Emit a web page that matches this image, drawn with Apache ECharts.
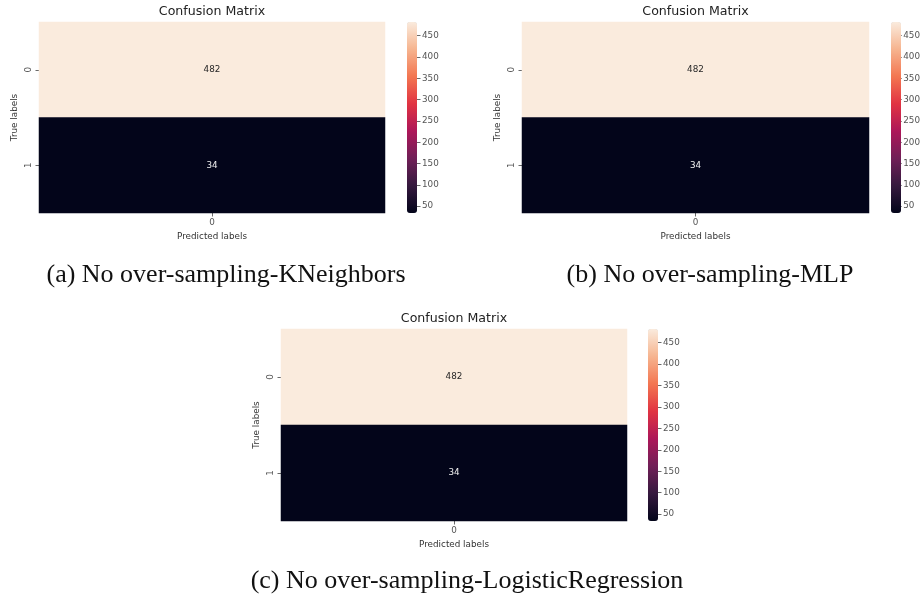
<!DOCTYPE html>
<html>
<head>
<meta charset="utf-8">
<script src="https://cdn.jsdelivr.net/npm/echarts@6/dist/echarts.min.js"></script>
<style>html,body{margin:0;padding:0;background:#fff;}#c{width:923px;height:602px;}</style>
</head>
<body>
<div id="c"></div>
<script>
// ---- data ----
const predictedLabels = ['0'];
const trueLabels = ['0', '1'];
const valuesKNeighbors = [482, 34];
const valuesMLP = [482, 34];
const valuesLogReg = [482, 34];
const colorbarTicks = [50, 100, 150, 200, 250, 300, 350, 400, 450];
const panelTitles = ['Confusion Matrix', 'Confusion Matrix', 'Confusion Matrix'];
const captions = ['(a) No over-sampling-KNeighbors', '(b) No over-sampling-MLP', '(c) No over-sampling-LogisticRegression'];
const rocket = ['#03051a', '#35193e', '#701f57', '#ad1759', '#e13342', '#f37651', '#f6b48f', '#faebdd'];

const FONT = 'DejaVu Sans';
const LBL = 8.8;
const panels = [
  { vals: valuesKNeighbors, hx: 39, hy: 22, hw: 346, hh: 191, cx: 407 },
  { vals: valuesMLP, hx: 522, hy: 22, hw: 347, hh: 191, cx: 891 },
  { vals: valuesLogReg, hx: 281, hy: 329, hw: 346, hh: 192, cx: 648 }
];
const vmin = Math.min(...valuesKNeighbors, ...valuesMLP, ...valuesLogReg);
const vmax = Math.max(...valuesKNeighbors, ...valuesMLP, ...valuesLogReg);

const grid = [], xAxis = [], yAxis = [], series = [], visualMap = [], graphic = [];
panels.forEach((p, i) => {
  // heatmap grid
  grid.push({ left: p.hx, top: p.hy, width: p.hw, height: p.hh, containLabel: false });
  xAxis.push({
    type: 'category', gridIndex: 2 * i, data: predictedLabels, position: 'bottom',
    axisLine: { show: false }, splitLine: { show: false },
    axisTick: { show: true, alignWithLabel: true, length: 3.5, lineStyle: { color: '#444', width: 0.8 } },
    axisLabel: { margin: 5, fontFamily: FONT, fontSize: LBL, color: '#555' },
    name: 'Predicted labels', nameLocation: 'middle', nameGap: 19,
    nameTextStyle: { fontFamily: FONT, fontSize: LBL, color: '#333' }
  });
  yAxis.push({
    type: 'category', gridIndex: 2 * i, data: trueLabels, inverse: true,
    axisLine: { show: false }, splitLine: { show: false },
    axisTick: { show: true, alignWithLabel: true, length: 3.5, lineStyle: { color: '#444', width: 0.8 } },
    axisLabel: { margin: 6, rotate: 90, fontFamily: FONT, fontSize: LBL, color: '#555' },
    name: 'True labels', nameLocation: 'middle', nameGap: 20, nameRotate: 90,
    nameTextStyle: { fontFamily: FONT, fontSize: LBL, color: '#333' }
  });
  // colorbar axis grid
  grid.push({ left: p.cx, top: p.hy, width: 10, height: p.hh, containLabel: false });
  xAxis.push({ type: 'category', gridIndex: 2 * i + 1, data: ['cb'], show: false });
  yAxis.push({
    type: 'value', gridIndex: 2 * i + 1, position: 'right', min: vmin, max: vmax,
    axisLine: { show: false }, splitLine: { show: false },
    axisTick: { show: true, length: 3.5, customValues: colorbarTicks, lineStyle: { color: '#444', width: 0.8 } },
    axisLabel: { margin: 5, customValues: colorbarTicks, fontFamily: FONT, fontSize: LBL, color: '#555' }
  });
  series.push({
    type: 'heatmap', xAxisIndex: 2 * i, yAxisIndex: 2 * i,
    data: p.vals.map((v, r) => ({
      value: [0, r, v],
      label: { show: true, color: v > (vmin + vmax) / 2 ? '#262626' : '#f0f0f0' }
    })),
    label: { show: true, fontFamily: FONT, fontSize: LBL, formatter: (d) => String(d.value[2]) },
    itemStyle: { borderWidth: 0 },
    emphasis: { disabled: true }
  });
  visualMap.push({
    type: 'continuous', seriesIndex: i, dimension: 2, min: vmin, max: vmax,
    inRange: { color: rocket }, calculable: false, hoverLink: false,
    left: p.cx, top: p.hy, itemWidth: 10, itemHeight: p.hh, padding: 0,
    orient: 'vertical', text: null, showLabel: false
  });
  graphic.push({
    type: 'text', x: p.hx + p.hw / 2, y: p.hy - 10,
    style: { text: panelTitles[i], fontFamily: FONT, fontSize: 12.6, fill: '#222', align: 'center', verticalAlign: 'middle' }
  });
});

const capPos = [[226, 275], [710, 275], [467, 581]];
captions.forEach((t, i) => {
  graphic.push({
    type: 'text', x: capPos[i][0], y: capPos[i][1],
    style: { text: t, fontFamily: 'Liberation Serif', fontSize: 26, fill: '#111', align: 'center', verticalAlign: 'middle' }
  });
});

const chart = echarts.init(document.getElementById('c'), null, { renderer: 'canvas' });
chart.setOption({
  backgroundColor: '#fff', animation: false,
  grid, xAxis, yAxis, series, visualMap, graphic
});
</script>
</body>
</html>
